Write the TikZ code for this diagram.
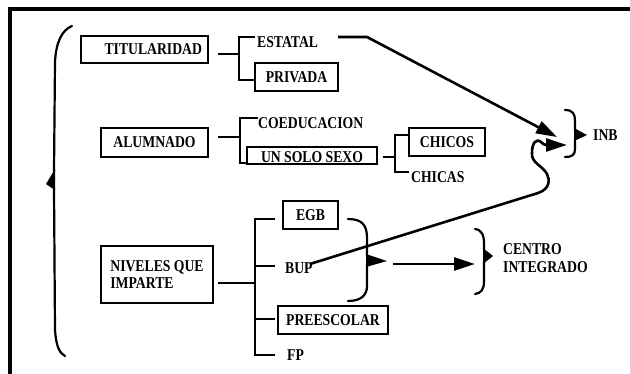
\documentclass[tikz,border=0pt]{standalone}
\usepackage{fontspec}
\setmainfont{Liberation Serif}
\newfontfamily\labelfont[FakeStretch=0.83]{Liberation Serif Bold}
\usetikzlibrary{arrows.meta}
\begin{document}
\begin{tikzpicture}[x=1pt,y=-1pt,
  txt/.style={font=\labelfont\fontsize{16.5}{17.5}\selectfont, inner sep=0pt},
  box/.style={txt, draw, line width=1.8pt},
  ln/.style={line width=1.8pt},
  bigarrow/.style={line width=2.6pt, -{Triangle[length=21pt,width=13pt]}},
  brace/.style={line width=2.2pt, line cap=round},
  tipfill/.style={fill=black}]
\useasboundingbox (0,0) rectangle (630,373);

% outer frame (only top and left edges fall inside the page)
\begin{scope}
  \clip (0,0) rectangle (630,373);
  \draw[line width=4pt] (9.5,380) -- (9.5,9) -- (640,9);
\end{scope}

% large opening brace on the left
\draw[brace] (72,26) .. controls (62,30) and (56,42) .. (55,62) -- (54,172);
\fill[tipfill] (55,169) -- (46,184) -- (55,190) -- cycle;
\draw[brace] (54,188) -- (55,330) .. controls (56,345) and (59,353) .. (65,356);

% --- TITULARIDAD ---
\node[box, text width=115pt, inner xsep=6pt, align=right, minimum height=27pt] (tit) at (144.5,49.5) {TITULARIDAD};
\node[txt, anchor=west] (estatal) at (257,42) {ESTATAL};
\node[box, minimum width=83pt, minimum height=28pt] (privada) at (296.5,77) {PRIVADA};
\draw[ln] (218,54) -- (239,54);
\draw[ln] (255,37) -- (239,37) -- (239,80) -- (255,80);

% --- ALUMNADO ---
\node[box, minimum width=107pt, minimum height=29pt] (alum) at (154.5,142.5) {ALUMNADO};
\node[txt, anchor=west] (coed) at (258,123) {COEDUCACION};
\node[box, minimum width=130pt, text height=14pt, text depth=0pt, inner ysep=1.5pt] (unsolo) at (312,155.5) {UN SOLO SEXO};
\draw[ln] (218,137) -- (240,137);
\draw[ln] (258,118) -- (240,118) -- (240,163) -- (247,163);

\node[box, minimum width=76pt, minimum height=28pt] (chicos) at (447,142) {CHICOS};
\node[txt, anchor=west] (chicas) at (411,177) {CHICAS};
\draw[ln] (383,157) -- (395,157);
\draw[ln] (409,135) -- (395,135) -- (395,172) -- (409,172);

% --- INB ---
\draw[brace] (565,110) .. controls (573,110) and (575,114) .. (575,121) -- (575,131);
\fill[tipfill] (574,128) -- (587,135) -- (574,141) -- cycle;
\draw[brace] (575,139) -- (575,149) .. controls (575,155) and (572,157) .. (565,157);
\node[txt, anchor=west] (inb) at (593,135) {INB};

% --- NIVELES QUE IMPARTE ---
\node[box, minimum width=112pt, minimum height=57pt, align=left] (niv) at (157,274.5) {NIVELES QUE\\IMPARTE};
\node[box, minimum width=55pt, minimum height=28pt] (egb) at (310.5,215) {EGB};
\node[txt, anchor=west] (bup) at (285,268) {BUP};
\node[box, minimum width=110pt, minimum height=28pt] (prees) at (333,320) {PREESCOLAR};
\node[txt, anchor=west] (fp) at (287,355) {FP};
\draw[ln] (218,283) -- (255,283);
\draw[ln] (275,219) -- (255,219) -- (255,355) -- (275,355);
\draw[ln] (255,266) -- (275,266);
\draw[ln] (255,319) -- (275,319);

% brace grouping EGB / BUP / PREESCOLAR
\draw[brace] (348,219) .. controls (362,219) and (367,225) .. (367,238) -- (367,256);
\fill[tipfill] (366,254) -- (387,261) -- (366,267) -- cycle;
\draw[brace] (367,265) -- (367,286) .. controls (367,296) and (360,301) .. (348,301);

% --- CENTRO INTEGRADO ---
\draw[brace] (475,229) .. controls (482,230) and (484,235) .. (484,244) -- (484,250);
\fill[tipfill] (483,248) -- (493,256) -- (483,264) -- cycle;
\draw[brace] (484,262) -- (484,281) .. controls (484,290) and (481,293) .. (475,294);
\node[txt, anchor=west, align=left] (centro) at (503,258) {CENTRO\\INTEGRADO};

% arrows
\coordinate (estatalEnd) at (338,37);
\coordinate (inbTopIn) at (557,137);
\coordinate (bupStart) at (310,264);
\coordinate (inbLowIn) at (567,145);
\draw[bigarrow] (estatalEnd) -- (367,37) -- (inbTopIn);
\draw[bigarrow] (bupStart) -- (538,193)
  .. controls (550,189) and (550,180) .. (547,174)
  .. controls (543,166) and (531,163) .. (532,153)
  .. controls (532,143) and (536,138) .. (541,142)
  .. controls (543,144) and (544,145) .. (547,145) -- (inbLowIn);
\draw[bigarrow] (393,264) -- (475,264);

\end{tikzpicture}
\end{document}
